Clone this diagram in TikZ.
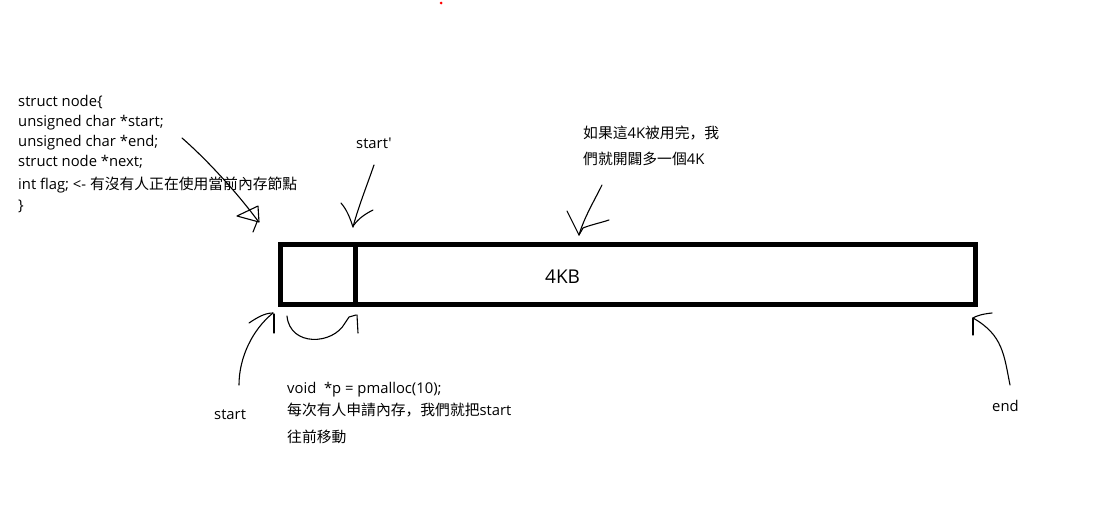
\documentclass[tikz,border=0pt]{standalone}
\usepackage{fontspec}
\newfontfamily\latfont{Open Sans}
\newfontfamily\cjk{Noto Sans CJK SC}
\begin{document}
\begin{tikzpicture}[x=1pt,y=-1pt,
  txt/.style={anchor=base west, inner sep=0pt, font=\fontsize{14.8}{17}\latfont},
  hand/.style={line width=1.1pt, line cap=round, line join=round},
  membox/.style={line width=5pt}]
\useasboundingbox[fill=white] (0,0) rectangle (1108,506);
% memory block
\coordinate (tl) at (280.5,244);
\coordinate (br) at (975,304);
\draw[membox] (tl) rectangle (br);
\draw[membox] (355.5,244) -- (355.5,304);
\node[txt, font=\fontsize{19}{22}\latfont] (kb) at (545,283) {4KB};
% struct text
\node[txt] (l1) at (18,106.5) {struct node\{};
\node[txt] (l2) at (18,126.5) {unsigned char *start;};
\node[txt] (l3) at (18,146.5) {unsigned char *end;};
\node[txt] (l4) at (18,166.5) {struct node *next;};
\node[txt] (l5) at (18,189.5) {int flag; <- \cjk 有沒有人正在使用當前內存節點};
\node[txt] (l6) at (18,210) {\}};
% labels
\node[txt] (sp) at (356,148) {start'};
\node[txt] (n1) at (583,138) {{\cjk 如果這}4K{\cjk 被用完，我}};
\node[txt] (n2) at (583,164.5) {{\cjk 們就開闢多一個}4K};
\node[txt] (st) at (214,419) {start};
\node[txt] (v1) at (287,393) {void\ \ *p = pmalloc(10);};
\node[txt] (v2) at (287,415.5) {{\cjk 每次有人申請內存，我們就把}start};
\node[txt] (v3) at (287,442) {\cjk 往前移動};
\node[txt] (en) at (992,411) {end};
% arrow from struct to header
\draw[hand] (182,138) .. controls (205,158) and (235,190) .. (258,221);
\draw[hand] (237,216) -- (258,206) -- (259,222) -- cycle;
\draw[hand] (257,222) -- (253,232);
% start' arrow
\draw[hand] (374,165) .. controls (366,188) and (358,208) .. (353,227);
\draw[hand] (341,203) .. controls (347,210) and (350,218) .. (353,227);
\draw[hand] (373,210) .. controls (365,214) and (358,219) .. (354,225);
% 4K arrow
\draw[hand] (602,185) .. controls (593,203) and (584,218) .. (579,235);
\draw[hand] (567,211) .. controls (571,219) and (575,227) .. (579,235);
\draw[hand] (609,220) .. controls (600,223) and (590,225) .. (583,228) -- (579,235);
% start arrow
\draw[hand] (239,385) .. controls (239,358) and (252,330) .. (273,313);
\draw[hand] (249,323) .. controls (258,317) and (265,313) .. (273,313);
\draw[hand] (274,314) -- (274,333);
% move arrow
\draw[hand] (287,316) .. controls (290,347) and (333,345) .. (345,323) -- (349,317) -- (356,315);
\draw[hand] (357,315) -- (358,333);
% end arrow
\draw[hand] (1010,385) .. controls (1004,355) and (1003,335) .. (973,318);
\draw[hand] (992,313) .. controls (982,314) and (976,316) .. (973,318);
\draw[hand] (973,318) -- (973,335);
% stray dot
\fill[red] (441,3) circle (1.5);
\end{tikzpicture}
\end{document}
